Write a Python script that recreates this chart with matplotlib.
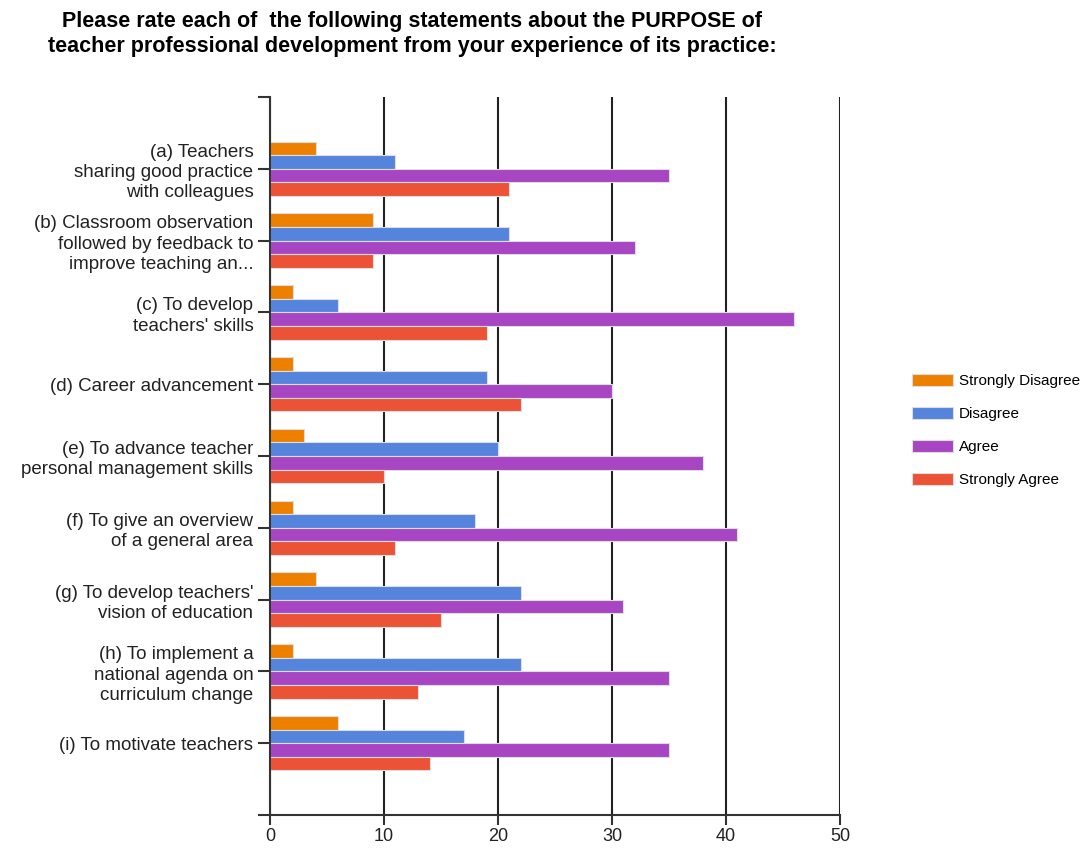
import numpy as np
import matplotlib.pyplot as plt

plt.rcParams['font.family'] = ['Liberation Sans', 'DejaVu Sans']

categories = [
    "(a) Teachers\nsharing good practice\nwith colleagues",
    "(b) Classroom observation\nfollowed by feedback to\nimprove teaching an...",
    "(c) To develop\nteachers' skills",
    "(d) Career advancement",
    "(e) To advance teacher\npersonal management skills",
    "(f) To give an overview\nof a general area",
    "(g) To develop teachers'\nvision of education",
    "(h) To implement a\nnational agenda on\ncurriculum change",
    "(i) To motivate teachers",
]
strongly_disagree = [4, 9, 2, 2, 3, 2, 4, 2, 6]
disagree = [11, 21, 6, 19, 20, 18, 22, 22, 17]
agree = [35, 32, 46, 30, 38, 41, 31, 35, 35]
strongly_agree = [21, 9, 19, 22, 10, 11, 15, 13, 14]

series = [
    ("Strongly Disagree", strongly_disagree, '#EE8000'),
    ("Disagree", disagree, '#5484DC'),
    ("Agree", agree, '#A745C2'),
    ("Strongly Agree", strongly_agree, '#EC5236'),
]

fig = plt.figure(figsize=(10.9, 8.49), dpi=100)
ax = fig.add_axes([270 / 1090, 1 - 815 / 849, 570 / 1090, 718 / 849])

y = np.arange(len(categories))
h = 0.19
for i, (name, vals, col) in enumerate(series):
    ax.barh(y + (i - 1.5) * h, vals, height=h, color=col,
            edgecolor='#dddddd', linewidth=0.8, label=name, zorder=3)

ax.set_xlim(0, 50)
ax.set_ylim(9, -1)
ax.set_xticks([0, 10, 20, 30, 40, 50])
ax.set_yticks(np.arange(-1, 10))
ax.set_yticklabels([''] + categories + [''], fontsize=13.5, color='#222222',
                   linespacing=1.25)
ax.tick_params(axis='y', length=9, width=1.5, color='#333333', pad=3)
ax.tick_params(axis='x', length=7.5, width=1.5, color='#333333',
               labelsize=13, labelcolor='#222222', pad=2)
ax.grid(axis='x', color='#222222', linewidth=1.5, zorder=0)
for s in ['top', 'right']:
    ax.spines[s].set_visible(False)
for s in ['left', 'bottom']:
    ax.spines[s].set_color('#333333')
    ax.spines[s].set_linewidth(1.5)
    ax.spines[s].set_zorder(4)

fig.text(412 / 1090, 1 - 34 / 849,
         "Please rate each of  the following statements about the PURPOSE of\n"
         "teacher professional development from your experience of its practice:",
         ha='center', va='center', fontsize=15.5, fontweight='bold',
         linespacing=1.3)

fig.legend(loc='upper left', bbox_to_anchor=(898 / 1090, 1 - 360 / 849),
           frameon=False, fontsize=11, handlelength=2.7, handleheight=0.85,
           labelspacing=1.22, handletextpad=0.4)

fig.savefig('out.png', dpi=100)
